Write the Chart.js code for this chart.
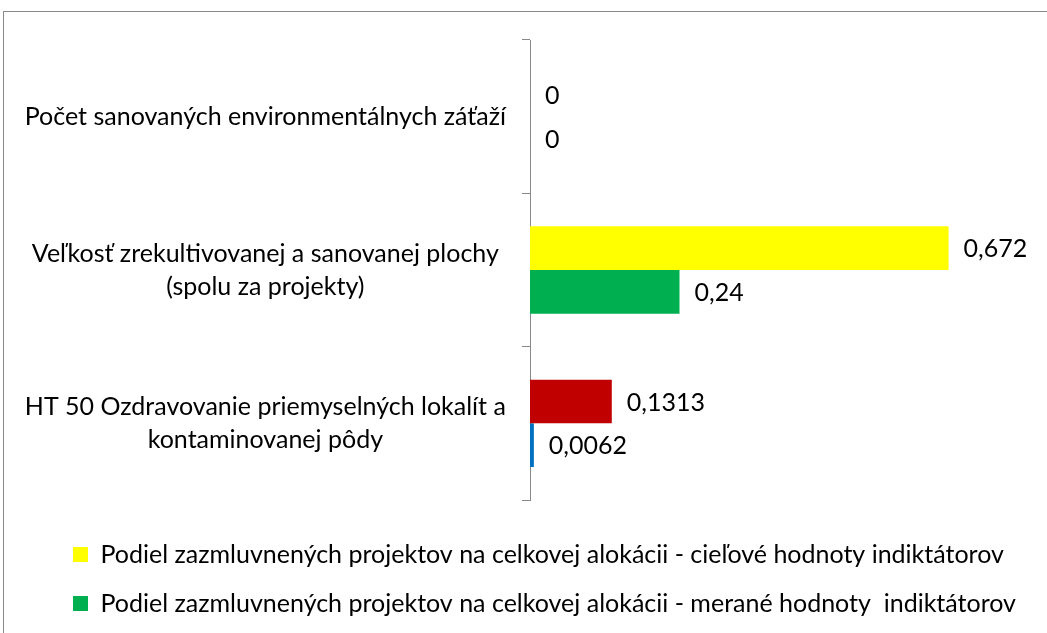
<!DOCTYPE html>
<html>
<head>
<meta charset="utf-8">
<script src="https://cdn.jsdelivr.net/npm/chart.js@4/dist/chart.umd.min.js"></script>
<style>
  body { margin: 0; background: #fff; overflow: hidden; }
  #frame { position: absolute; left: 3px; top: 11px; width: 1060px; height: 640px; border: 1px solid #888; }
  #wrap { position: absolute; left: 0; top: 0; width: 1047px; height: 633px; }
</style>
</head>
<body>
<div id="frame"></div>
<div id="wrap"><canvas id="chart"></canvas></div>
<script>
  const kategorie = [
    ['Počet sanovaných environmentálnych záťaží'],
    ['Veľkosť zrekultivovanej a sanovanej plochy', '(spolu za projekty)'],
    ['HT 50 Ozdravovanie priemyselných lokalít a', 'kontaminovanej pôdy']
  ];
  const cieloveHodnoty = [0, 0.672, 0.1313];
  const meraneHodnoty = [0, 0.24, 0.0062];
  const nazvySerii = [
    'Podiel zazmluvnených projektov na celkovej alokácii - cieľové hodnoty indiktátorov',
    'Podiel zazmluvnených projektov na celkovej alokácii - merané hodnoty  indiktátorov'
  ];

  const pismo = { family: 'Lato', size: 25, lineHeight: 1.32 };

  // popisky hodnot za koncom stlpca (ciarka ako desatinny oddelovac)
  const popiskyPlugin = {
    id: 'popisky',
    afterDatasetsDraw(chart) {
      const ctx = chart.ctx;
      ctx.save();
      ctx.font = `${pismo.size}px ${pismo.family}`;
      ctx.fillStyle = '#000';
      ctx.textBaseline = 'middle';
      ctx.textAlign = 'left';
      chart.data.datasets.forEach((ds, i) => {
        chart.getDatasetMeta(i).data.forEach((bar, j) => {
          const txt = String(ds.data[j]).replace('.', ',');
          ctx.fillText(txt, bar.x + 15, bar.y + 1);
        });
      });
      ctx.restore();
    }
  };

  // legenda zarovnana vlavo, ale trochu odsadena od okraja
  const legendaPlugin = {
    id: 'legendaOdsadenie',
    afterLayout(chart) {
      if (chart.legend) chart.legend.left += 49;
    }
  };

  const ctx = document.getElementById('chart').getContext('2d');
  window.indikatoryChart = new Chart(ctx, {
    type: 'bar',
    data: {
      labels: kategorie,
      datasets: [{
        label: nazvySerii[0],
        data: cieloveHodnoty,
        backgroundColor: ['#FFFF00', '#FFFF00', '#C00000']
      }, {
        label: nazvySerii[1],
        data: meraneHodnoty,
        backgroundColor: ['#00B050', '#00B050', '#0070C0']
      }]
    },
    options: {
      indexAxis: 'y',
      responsive: true,
      maintainAspectRatio: false,
      animation: false,
      layout: { padding: { top: 40, left: 0, right: 0, bottom: 7 } },
      datasets: { bar: { categoryPercentage: 0.57, barPercentage: 1 } },
      scales: {
        x: {
          min: 0,
          max: 0.83,
          ticks: { display: false },
          grid: { display: false, drawTicks: false },
          border: { display: false },
          afterFit: s => { s.height = 18; }
        },
        y: {
          grid: { offset: true, drawOnChartArea: false, tickLength: 8, color: '#888', lineWidth: 1 },
          border: { color: '#888', width: 1 },
          ticks: { color: '#000', font: pismo, padding: 16, crossAlign: 'center', autoSkip: false },
          afterFit: s => {
            s.width = 530;
            s.paddingTop = 0;
            s.paddingBottom = 0;
          }
        }
      },
      plugins: {
        legend: {
          position: 'bottom',
          align: 'start',
          labels: { color: '#000', font: pismo, boxWidth: 15, boxHeight: 15, padding: 24 }
        },
        tooltip: { enabled: false },
        title: { display: false }
      }
    },
    plugins: [popiskyPlugin, legendaPlugin]
  });
</script>
</body>
</html>
